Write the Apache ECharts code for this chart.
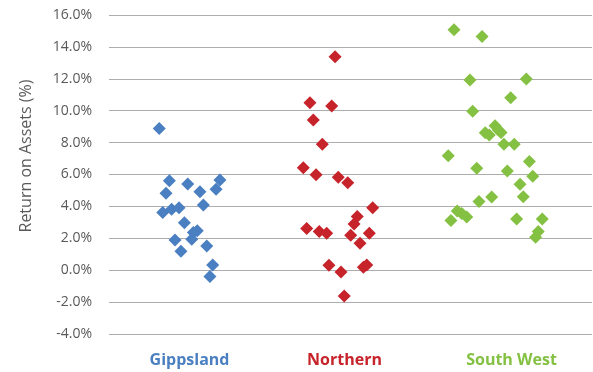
<!DOCTYPE html>
<html>
<head>
<meta charset="utf-8">
<script src="https://cdn.jsdelivr.net/npm/echarts@6/dist/echarts.min.js"></script>
<style>
html,body{margin:0;padding:0;background:#fff;}
#chart{width:593px;height:372px;}
</style>
</head>
<body>
<div id="chart"></div>
<script>
const categories = ['Gippsland', 'Northern', 'South West'];
const yTicks = [-4, -2, 0, 2, 4, 6, 8, 10, 12, 14, 16];

// [jittered x position in category units, return on assets %]
const gippsland = [
  [0.312, 8.89], [0.375, 5.61], [0.489, 5.40], [0.689, 5.65], [0.665, 5.07],
  [0.354, 4.82], [0.565, 4.92], [0.586, 4.09], [0.334, 3.61], [0.389, 3.82],
  [0.435, 3.92], [0.468, 2.98], [0.524, 2.36], [0.548, 2.48], [0.514, 1.94],
  [0.410, 1.90], [0.447, 1.19], [0.607, 1.52], [0.644, 0.33], [0.627, -0.40]
];
const northern = [
  [1.404, 13.38], [1.248, 10.50], [1.383, 10.29], [1.269, 9.41], [1.325, 7.89],
  [1.207, 6.43], [1.286, 5.99], [1.424, 5.82], [1.483, 5.49], [1.638, 3.92],
  [1.542, 3.36], [1.522, 2.90], [1.228, 2.61], [1.306, 2.42], [1.352, 2.32],
  [1.501, 2.19], [1.617, 2.32], [1.559, 1.69], [1.366, 0.31], [1.580, 0.19],
  [1.601, 0.33], [1.441, -0.11], [1.461, -1.61]
];
const southWest = [
  [2.143, 15.07], [2.317, 14.65], [2.242, 11.92], [2.592, 11.98], [2.495, 10.81],
  [2.259, 9.97], [2.398, 9.05], [2.337, 8.62], [2.362, 8.47], [2.418, 8.79],
  [2.435, 8.64], [2.453, 7.89], [2.517, 7.89], [2.107, 7.18], [2.611, 6.82],
  [2.284, 6.39], [2.474, 6.22], [2.632, 5.89], [2.553, 5.39], [2.573, 4.61],
  [2.377, 4.59], [2.298, 4.30], [2.163, 3.71], [2.191, 3.55], [2.222, 3.34],
  [2.124, 3.11], [2.532, 3.21], [2.691, 3.21], [2.666, 2.42], [2.650, 2.07]
];
const seriesData = [gippsland, northern, southWest];
const colors = ['#4A7FC1', '#C6232B', '#84C143'];

const chart = echarts.init(document.getElementById('chart'));
const font = '"Open Sans", sans-serif';
chart.setOption({
  animation: false,
  grid: { left: 109, right: 1, top: 15, bottom: 38, containLabel: false },
  xAxis: [
    { type: 'value', min: 0, max: 3, show: false },
    {
      type: 'category', data: categories, position: 'bottom',
      axisLine: { show: false }, axisTick: { show: false }, splitLine: { show: false },
      axisLabel: {
        margin: 18,
        formatter: function (v) { return '{c' + categories.indexOf(v) + '|' + v + '}'; },
        rich: {
          c0: { color: colors[0], fontFamily: font, fontSize: 16, fontWeight: 'bold' },
          c1: { color: colors[1], fontFamily: font, fontSize: 16, fontWeight: 'bold', padding: [0, 12, 0, 0] },
          c2: { color: colors[2], fontFamily: font, fontSize: 16, fontWeight: 'bold' }
        }
      }
    }
  ],
  yAxis: {
    type: 'value', min: yTicks[0], max: yTicks[yTicks.length - 1], interval: 2,
    axisLine: { show: false }, axisTick: { show: false },
    splitLine: { lineStyle: { color: '#ADADAD', width: 1 } },
    axisLabel: {
      margin: 17, fontFamily: font, fontSize: 14, color: '#595959',
      formatter: function (v) { return v.toFixed(1) + '%'; }
    }
  },
  graphic: [{
    type: 'text', x: 26, y: 156, rotation: Math.PI / 2,
    style: {
      text: 'Return on Assets (%)', fontFamily: font, fontSize: 16, fill: '#595959',
      align: 'center', verticalAlign: 'middle'
    }
  }],
  series: seriesData.map(function (d, i) {
    return {
      name: categories[i], type: 'scatter', xAxisIndex: 0, data: d,
      symbol: 'diamond', symbolSize: 13,
      itemStyle: { color: colors[i], opacity: 1 }
    };
  })
});
</script>
</body>
</html>
